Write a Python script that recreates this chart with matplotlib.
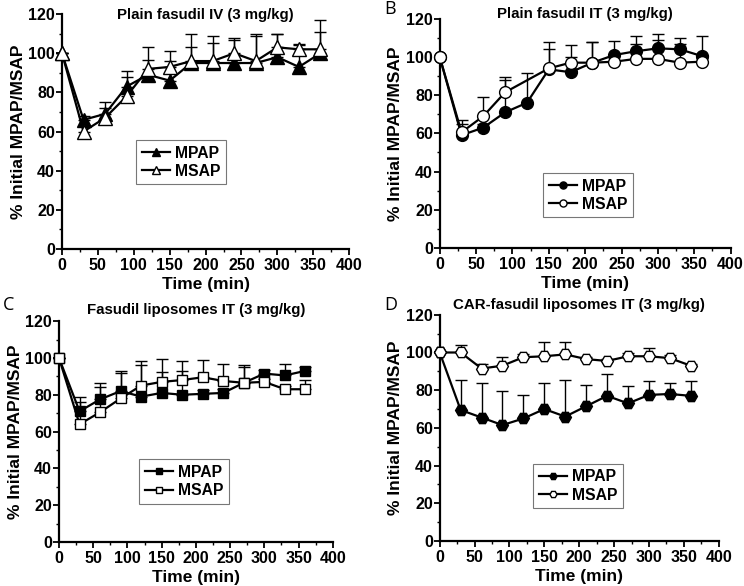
import matplotlib
matplotlib.use('Agg')
import matplotlib.pyplot as plt
from matplotlib.ticker import MultipleLocator

plt.rcParams['font.family'] = ['Liberation Sans', 'DejaVu Sans']
plt.rcParams['font.weight'] = 'bold'

# time points (min)
time = [0, 30, 60, 90, 120, 150, 180, 210, 240, 270, 300, 330, 360]
time_b_msap = [0, 30, 60, 90, 150, 180, 210, 240, 270, 300, 330, 360]

# A - Plain fasudil IV
a_mpap = [100, 66, 69, 83, 89, 86, 95, 95, 95, 95, 98, 93, 100]
a_mpap_sd = [0, 2, 3, 5, 7.5, 10, 8, 10, 12, 14, 12, 11, 11]
a_msap = [100, 60, 67, 78, 92, 93, 96, 96, 100, 96, 103, 102, 102]
a_msap_sd = [0, 3, 8, 13, 11, 8, 14, 13, 8, 14, 7, 2.5, 15]

# B - Plain fasudil IT
b_mpap = [100, 59, 63, 71, 76, 93.5, 92, 97, 101, 103, 104.5, 104, 100.5]
b_mpap_sd = [0, 6, 2, 17, 15.5, 10.5, 8, 11, 7.5, 8, 7.5, 6, 10.5]
b_msap = [100, 60.5, 69, 81.5, 94, 97, 97, 97.5, 99, 99, 97, 97.5]
b_msap_sd = [0, 6.5, 10, 8, 14, 9, 11, 3, 8, 10, 10, 2]

# C - Fasudil liposomes IT
c_mpap = [100, 71, 77.5, 82, 79, 81, 80, 80.5, 81, 86.5, 91.5, 90.5, 93]
c_mpap_sd = [0, 8, 9, 11, 17, 11.4, 13, 2, 2, 9.5, 2, 6, 2]
c_msap = [100, 64, 70.5, 78, 85, 87, 88, 89.5, 87.5, 86.5, 87, 83, 83]
c_msap_sd = [0, 12, 13.5, 14, 13.5, 12.5, 10.5, 9.5, 9, 8.5, 1.5, 2, 5]

# D - CAR-fasudil liposomes IT
d_mpap = [100, 69.5, 65.5, 61.5, 65, 70, 66, 71.5, 77, 73, 77.5, 78, 77]
d_mpap_sd = [0, 16, 18.5, 18, 12.5, 14, 19.5, 11.5, 11.5, 9, 7.5, 6, 8]
d_msap = [100, 100, 91.5, 93, 97.5, 98, 99, 96.5, 95.5, 98, 98, 97, 93]
d_msap_sd = [0, 4, 2.5, 4.5, 1.5, 7.5, 6.5, 1, 1, 1.5, 4.5, 1.5, 1]


def series(ax, t, y, sd, marker, fill, ms, label):
    low = [0] * len(sd)
    ax.errorbar(t, y, yerr=[low, sd], fmt='none', ecolor='black',
                elinewidth=1.0, capsize=4, capthick=1.0, zorder=2)
    ax.plot(t, y, color='black', lw=1.6, marker=marker, ms=ms,
            mfc=fill, mec='black', mew=1.0, label=label, zorder=3)


def panel(rect, title, title_y, letter, letter_xy, data, marker, ms, leg_box):
    ax = fig.add_axes(rect)
    for t, y, sd, fill, label in data:
        series(ax, t, y, sd, marker, fill, ms, label)

    ax.set_xlim(0, 400)
    ax.set_ylim(0, 120)
    ax.xaxis.set_major_locator(MultipleLocator(50))
    ax.xaxis.set_minor_locator(MultipleLocator(25))
    ax.yaxis.set_major_locator(MultipleLocator(20))
    ax.yaxis.set_minor_locator(MultipleLocator(10))
    for side in ['top', 'right']:
        ax.spines[side].set_visible(False)
    for side in ['left', 'bottom']:
        ax.spines[side].set_linewidth(1.6)
    ax.tick_params(which='major', length=4, width=1.3, labelsize=11.5)
    ax.tick_params(axis='x', which='major', pad=2.5)
    ax.tick_params(axis='y', which='major', pad=1)
    ax.tick_params(which='minor', length=2.5, width=1.0)
    for lbl in ax.get_xticklabels() + ax.get_yticklabels():
        lbl.set_fontweight('bold')
    for ln in ax.lines:
        ln.set_clip_on(False)

    ax.set_xlabel('Time (min)', fontsize=12.5, fontweight='bold', labelpad=3)
    ax.set_ylabel('% Initial MPAP/MSAP', fontsize=12.5, fontweight='bold', labelpad=2)
    ax.text(0.5, title_y, title, transform=ax.transAxes, ha='center',
            va='center', fontsize=10.8, fontweight='bold')
    if letter:
        fig.text(letter_xy[0], letter_xy[1], letter, fontsize=13,
                 fontweight='normal', family=['Open Sans', 'DejaVu Sans'],
                 ha='left', va='center')

    leg = ax.legend(loc='center', bbox_to_anchor=leg_box, frameon=True,
                    fancybox=False, edgecolor='#555555', fontsize=11.3,
                    handlelength=1.8, handletextpad=0.3, markerscale=0.6,
                    borderpad=0.35, labelspacing=0.2)
    leg.get_frame().set_linewidth(0.8)
    return ax


fig = plt.figure(figsize=(7.44, 5.86), dpi=100)

# Plain fasudil IV
panel([0.0833, 0.575, 0.386, 0.401], 'Plain fasudil IV (3 mg/kg)', 0.995, None, None,
      [(time, a_mpap, a_mpap_sd, 'black', 'MPAP'),
       (time, a_msap, a_msap_sd, 'white', 'MSAP')],
      '^', 10, (0.415, 0.37))

# Plain fasudil IT
panel([0.591, 0.577, 0.391, 0.391], 'Plain fasudil IT (3 mg/kg)', 1.02, 'B', (0.516, 0.985),
      [(time, b_mpap, b_mpap_sd, 'black', 'MPAP'),
       (time_b_msap, b_msap, b_msap_sd, 'white', 'MSAP')],
      'o', 8.5, (0.51, 0.23))

# Fasudil liposomes IT
panel([0.0793, 0.075, 0.368, 0.377], 'Fasudil liposomes IT (3 mg/kg)', 1.05, 'C', (0.004, 0.479),
      [(time, c_mpap, c_mpap_sd, 'black', 'MPAP'),
       (time, c_msap, c_msap_sd, 'white', 'MSAP')],
      's', 7.5, (0.456, 0.274))

# CAR-fasudil liposomes IT
panel([0.591, 0.0768, 0.375, 0.386], 'CAR-fasudil liposomes IT (3 mg/kg)', 1.045, 'D', (0.516, 0.479),
      [(time, d_mpap, d_mpap_sd, 'black', 'MPAP'),
       (time, d_msap, d_msap_sd, 'white', 'MSAP')],
      'H', 8.5, (0.496, 0.243))

fig.savefig('out.png', dpi=100)
